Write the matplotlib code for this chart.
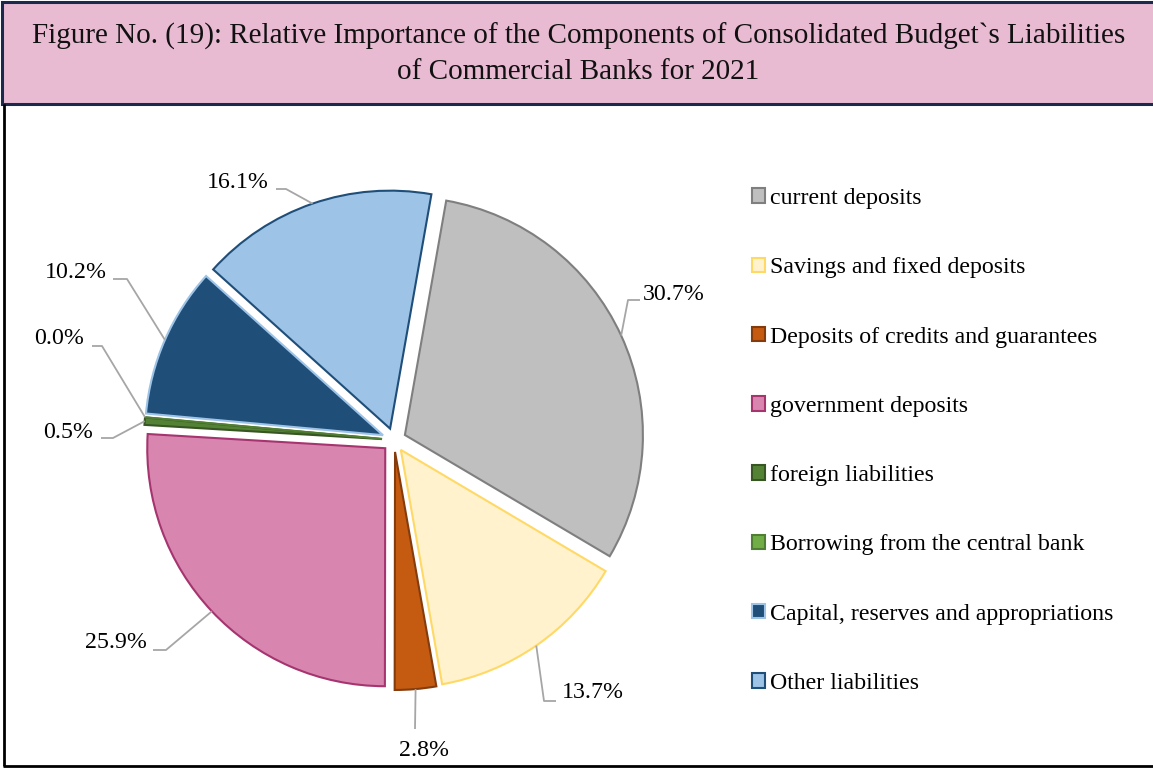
import numpy as np
import matplotlib
matplotlib.use("Agg")
import matplotlib.pyplot as plt
from matplotlib.patches import Rectangle

plt.rcParams["font.family"] = ["Liberation Serif", "DejaVu Serif"]

# ---- data -------------------------------------------------------------
categories = [
    "current deposits",
    "Savings and fixed deposits",
    "Deposits of credits and guarantees",
    "government deposits",
    "foreign liabilities",
    "Borrowing from the central bank",
    "Capital, reserves and appropriations",
    "Other liabilities",
]
shares = [30.7, 13.7, 2.8, 25.9, 0.5, 0.0, 10.2, 16.1]
face_colors = ["#BFBFBF", "#FFF2CC", "#C55A11", "#D886B0",
               "#548235", "#70AD47", "#1F4E79", "#9DC3E6"]
edge_colors = ["#7F7F7F", "#FFD966", "#843C0C", "#A5346F",
               "#375623", "#507E32", "#9DC3E6", "#1F4E79"]
title = ("Figure No. (19): Relative Importance of the Components of "
         "Consolidated Budget`s Liabilities\nof Commercial Banks for 2021")

# ---- canvas in pixel units (y measured from the top) --------------------
W, H = 1153, 768
fig = plt.figure(figsize=(W / 100, H / 100), dpi=100)
ax = fig.add_axes([0, 0, 1, 1])


def Y(py):
    return H - py


# pie geometry (pixels)
cx, cy, radius = 394, 440, 238
explode_px = 12

wedges, _ = ax.pie(
    shares,
    colors=face_colors,
    radius=radius,
    center=(cx, Y(cy)),
    startangle=80,
    counterclock=False,
    explode=[explode_px] * len(shares),
    wedgeprops=dict(linewidth=1.5),
    normalize=True,
)
for w, ec in zip(wedges, edge_colors):
    w.set_edgecolor(ec)
    w.set_joinstyle("miter")

ax.set_xlim(0, W)
ax.set_ylim(0, H)
ax.set_aspect("equal", adjustable="box")
ax.axis("off")

# ---- data labels with leader lines -----------------------------------
# (text x, text y, alignment, knee points of the leader from the text side)
label_layout = [
    (643, 295, "left",   [(640, 300), (628, 300)]),
    (562, 693, "left",   [(556, 701), (544, 701)]),
    (424, 750, "center", [(415, 729)]),
    (147, 642, "right",  [(153, 650), (166, 650)]),
    (93, 432, "right",   [(101, 438), (113, 438)]),
    (84, 338, "right",   [(92, 346), (102, 346)]),
    (107, 273, "right",  [(113, 279), (127, 279)]),
    (269, 182, "right",  [(276, 189), (286, 189)]),
]
label_fs = 17.2
leader_color = "#A6A6A6"

for w, val, (tx, ty, ha, knees) in zip(wedges, shares, label_layout):
    mid = np.deg2rad((w.theta1 + w.theta2) / 2)
    ox, oy = w.center
    ax_x = ox + w.r * np.cos(mid)
    ax_y = oy + w.r * np.sin(mid)
    xs = [k[0] for k in knees] + [ax_x]
    ys = [Y(k[1]) for k in knees] + [ax_y]
    ax.plot(xs, ys, color=leader_color, lw=1.3, solid_capstyle="butt",
            zorder=1)
    ax.text(tx, Y(ty), f"{val:.1f}%", ha=ha, va="center",
            fontsize=label_fs, color="black")

# ---- legend -------------------------------------------------------------
leg = ax.legend(
    wedges, categories,
    loc="upper left",
    bbox_to_anchor=(752, Y(188)),
    bbox_transform=ax.transData,
    frameon=False,
    fontsize=label_fs,
    handlelength=0.55,
    handleheight=0.55,
    handletextpad=0.2,
    labelspacing=2.02,
    borderpad=0,
    borderaxespad=0,
)

# ---- title band and frame ----------------------------------------------
ax.add_patch(Rectangle((2, Y(104)), W + 10, 102, facecolor="#E9BBD3",
                       edgecolor="#1B2A4A", linewidth=2.2, zorder=0,
                       clip_on=False))
ax.text(W / 2 + 2, Y(54), title, ha="center", va="center", fontsize=21,
        linespacing=1.45, color="#111111")
ax.plot([4, 4], [Y(104), Y(766)], color="black", lw=2.0,
        solid_capstyle="butt")
ax.plot([3, W], [Y(766), Y(766)], color="black", lw=2.0,
        solid_capstyle="butt")

fig.savefig("out.png", dpi=100)
